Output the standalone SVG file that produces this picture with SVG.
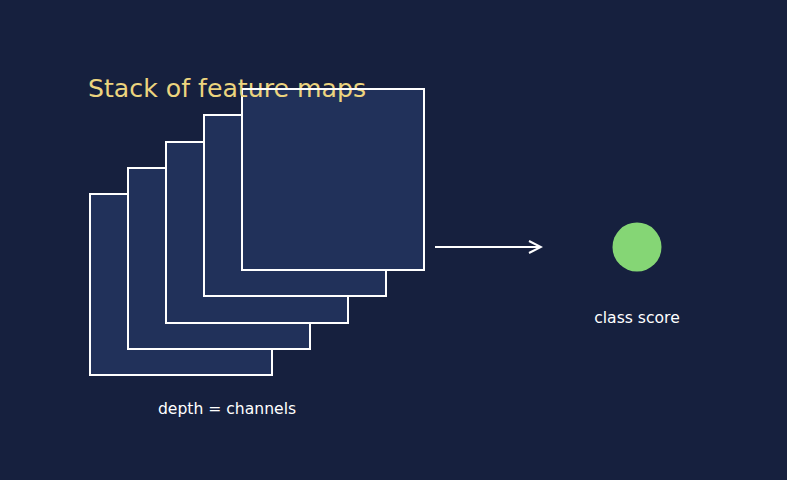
<svg xmlns="http://www.w3.org/2000/svg" width="787" height="480" viewBox="0 0 787 480">
<style>
.map{fill:#21315a;stroke:#ffffff;stroke-width:2}
.lbl{font-family:"DejaVu Sans",sans-serif;font-size:15.6px;fill:#ffffff;text-anchor:middle}
.title{font-family:"DejaVu Sans",sans-serif;font-size:25.2px;fill:#ecd47e}
.conn{stroke:#ffffff;stroke-width:2;fill:none}
</style>
<defs>
<marker id="arr" markerWidth="16" markerHeight="16" refX="14" refY="8" orient="auto" markerUnits="userSpaceOnUse">
<path d="M2,2 L14,8 L2,14" fill="none" stroke="#ffffff" stroke-width="2"/>
</marker>
</defs>
<rect width="787" height="480" fill="#16203e"/>
<g id="stack">
<rect id="map1" class="map" x="90" y="194" width="182" height="181"/>
<rect id="map2" class="map" x="128" y="168" width="182" height="181"/>
<rect id="map3" class="map" x="166" y="142" width="182" height="181"/>
<rect id="map4" class="map" x="204" y="115" width="182" height="181"/>
<rect id="map5" class="map" x="242" y="89" width="182" height="181"/>
<text class="lbl" x="227" y="414">depth = channels</text>
</g>
<text id="title" class="title" x="88" y="97">Stack of feature maps</text>
<line x1="242" y1="89" x2="424" y2="89" stroke="#ffffff" stroke-width="2"/>
<g id="connectors">
<line class="conn" x1="435" y1="247" x2="541" y2="247" marker-end="url(#arr)"/>
</g>
<g id="score">
<circle cx="637" cy="247" r="24.5" fill="#85d675"/>
<text class="lbl" x="637" y="323">class score</text>
</g>
</svg>
